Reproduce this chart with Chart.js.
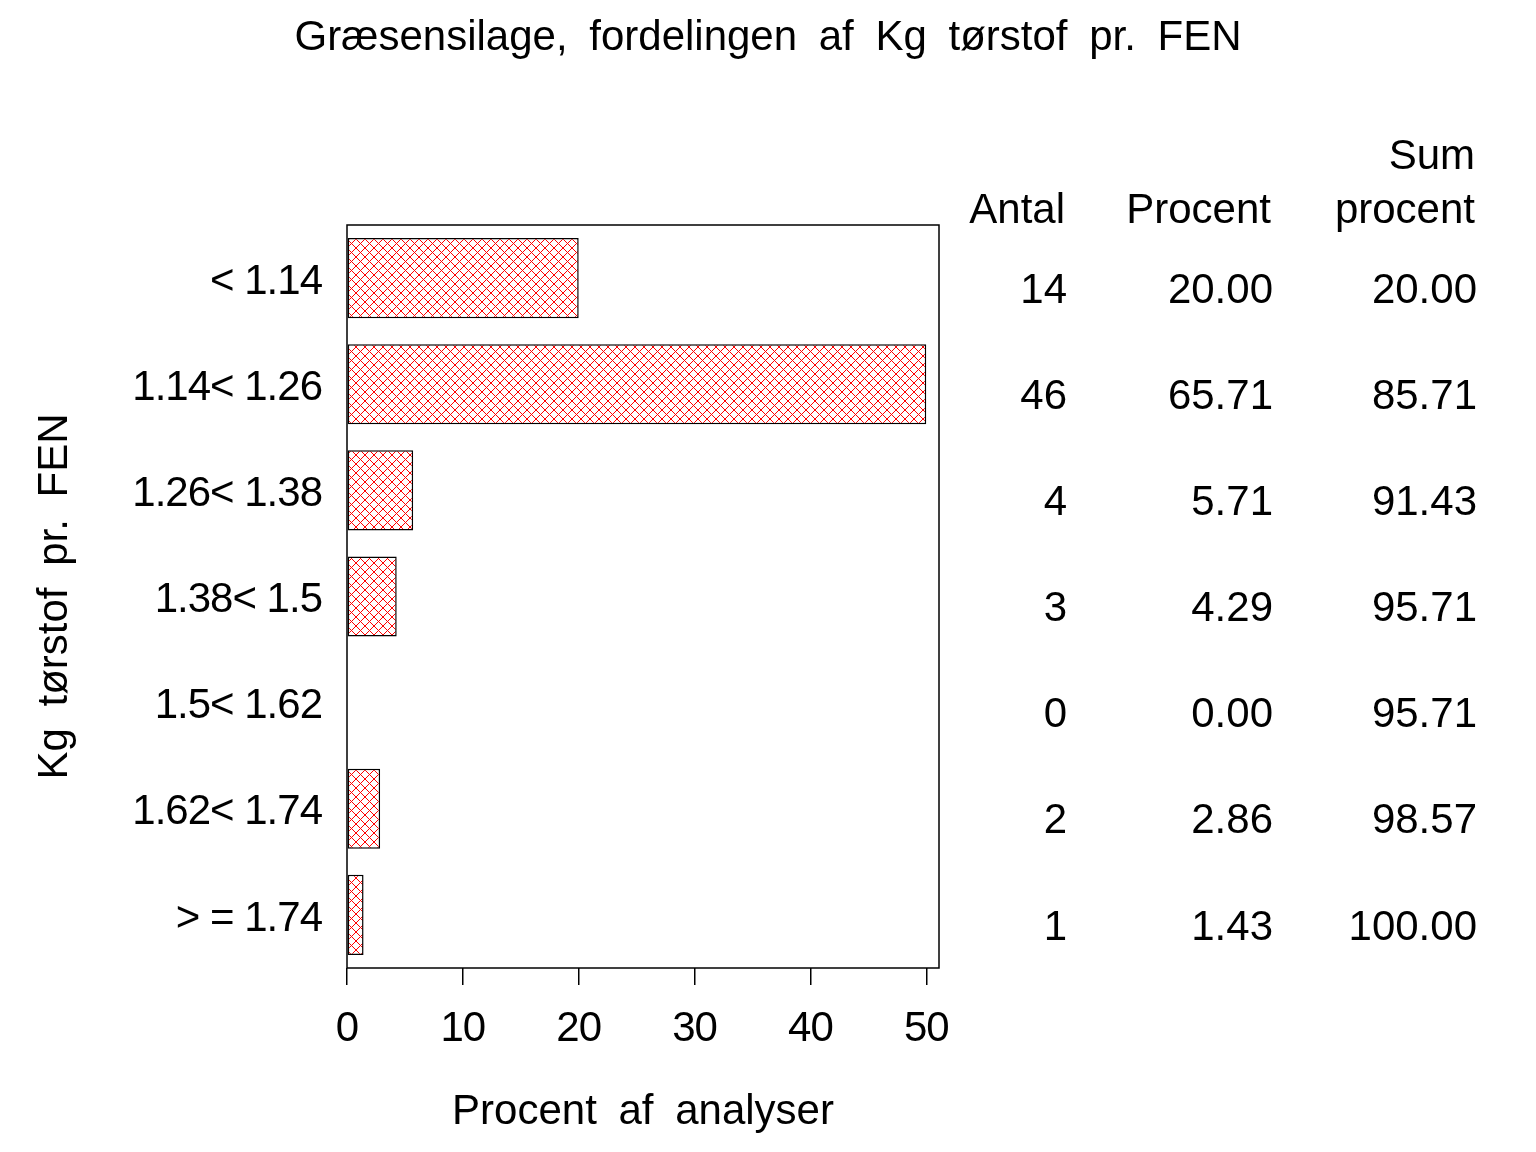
<!DOCTYPE html>
<html><head><meta charset="utf-8">
<script src="https://cdn.jsdelivr.net/npm/chart.js@4.4.1/dist/chart.umd.min.js"></script>
<style>html,body{margin:0;padding:0;background:#fff;}canvas{display:block;}</style>
</head><body>
<canvas id="c" width="1536" height="1152"></canvas>
<script>
// ---- data ----
const categories = ['< 1.14', '1.14< 1.26', '1.26< 1.38', '1.38< 1.5', '1.5< 1.62', '1.62< 1.74', '> = 1.74'];
const antal = [14, 46, 4, 3, 0, 2, 1];
const procent = [20.00, 65.71, 5.71, 4.29, 0.00, 2.86, 1.43];
const sumProcent = [20.00, 85.71, 91.43, 95.71, 95.71, 98.57, 100.00];
const xTickMax = 50;      // last labelled tick (bars are clipped here, as in the original)
const xAxisStep = 10;
const titleText = 'Græsensilage, fordelingen af Kg tørstof pr. FEN';
const xTitleText = 'Procent af analyser';
const yTitleText = 'Kg tørstof pr. FEN';
const headerTop = ['', '', 'Sum'];
const headerBottom = ['Antal', 'Procent', 'procent'];

const barValues = procent.map(v => Math.min(v, xTickMax));

const FONT = "'Liberation Sans', Arial, Helvetica, sans-serif";
const FS = 42;

function makePattern() {
  const s = 9;
  const c = document.createElement('canvas');
  c.width = s; c.height = s;
  const g = c.getContext('2d');
  g.fillStyle = '#ffffff';
  g.fillRect(0, 0, s, s);
  g.fillStyle = '#ff0000';
  for (let y = 0; y < s; y++) {
    for (let x = 0; x < s; x++) {
      if (((x - y) % s + s) % s === 0 || (x + y) % s === 0) g.fillRect(x, y, 1, 1);
    }
  }
  return g.createPattern(c, 'repeat');
}

const ctx = document.getElementById('c').getContext('2d');
const pattern = makePattern();

const spacingPlugin = {
  id: 'spacing',
  beforeDraw(chart) { chart.ctx.letterSpacing = '-1px'; chart.ctx.wordSpacing = '0px'; },
  beforeDatasetsDraw(chart) { chart.ctx.letterSpacing = '0px'; }
};

const framePlugin = {
  id: 'frame',
  afterDatasetsDraw(chart) {
    const a = chart.chartArea;
    const c = chart.ctx;
    c.save();
    c.strokeStyle = '#000';
    c.lineWidth = 1.5;
    c.strokeRect(a.left, a.top, a.right - a.left, a.bottom - a.top);
    c.restore();
  }
};

const textPlugin = {
  id: 'texts',
  afterDraw(chart) {
    const c = chart.ctx;
    const a = chart.chartArea;
    const ys = chart.scales.y;
    c.save();
    c.letterSpacing = '0px';
    c.fillStyle = '#000';
    c.font = FS + 'px ' + FONT;
    c.textBaseline = 'middle';
    // titles
    c.wordSpacing = '10px';
    c.textAlign = 'center';
    c.fillText(titleText, chart.width / 2, 38);
    c.fillText(xTitleText, (a.left + a.right) / 2, 1112);
    c.save();
    c.translate(55, (a.top + a.bottom) / 2);
    c.rotate(-Math.PI / 2);
    c.fillText(yTitleText, 0, 0);
    c.restore();
    c.wordSpacing = '0px';
    // table
    const colX = [1067, 1273, 1477];
    c.textAlign = 'right';
    for (let j = 0; j < 3; j++) {
      if (headerTop[j]) c.fillText(headerTop[j], colX[j] - 2, 157);
      c.fillText(headerBottom[j], colX[j] - 2, 211);
    }
    for (let i = 0; i < categories.length; i++) {
      const y = ys.getPixelForValue(i) + 13;
      c.fillText(String(antal[i]), colX[0], y);
      c.fillText(procent[i].toFixed(2), colX[1], y);
      c.fillText(sumProcent[i].toFixed(2), colX[2], y);
    }
    c.restore();
  }
};

new Chart(ctx, {
  type: 'bar',
  data: {
    labels: categories,
    datasets: [{
      data: barValues,
      backgroundColor: pattern,
      borderColor: '#000',
      borderWidth: 1.5,
      borderSkipped: false,
      categoryPercentage: 1,
      barPercentage: 0.755
    }]
  },
  options: {
    indexAxis: 'y',
    responsive: false,
    animation: false,
    devicePixelRatio: 1,
    layout: { padding: { left: 0, right: 597, top: 225, bottom: 0 } },
    plugins: {
      legend: { display: false },
      tooltip: { enabled: false },
      title: { display: false }
    },
    scales: {
      x: {
        min: 0, max: 51.1,
        afterFit(s) { s.height = 184; },
        ticks: { stepSize: xAxisStep, includeBounds: false, color: '#000', font: { family: FONT, size: FS }, padding: 19, maxRotation: 0 },
        grid: { drawOnChartArea: false, drawTicks: true, tickLength: 17, color: '#000', lineWidth: 1.5 },
        border: { display: false },
        title: { display: false }
      },
      y: {
        afterFit(s) { s.width = 347; },
        ticks: { color: '#000', font: { family: FONT, size: FS }, padding: 25, labelOffset: 4 },
        grid: { display: false, drawTicks: false },
        border: { display: false },
        title: { display: false }
      }
    }
  },
  plugins: [spacingPlugin, framePlugin, textPlugin]
});
</script>
</body></html>
